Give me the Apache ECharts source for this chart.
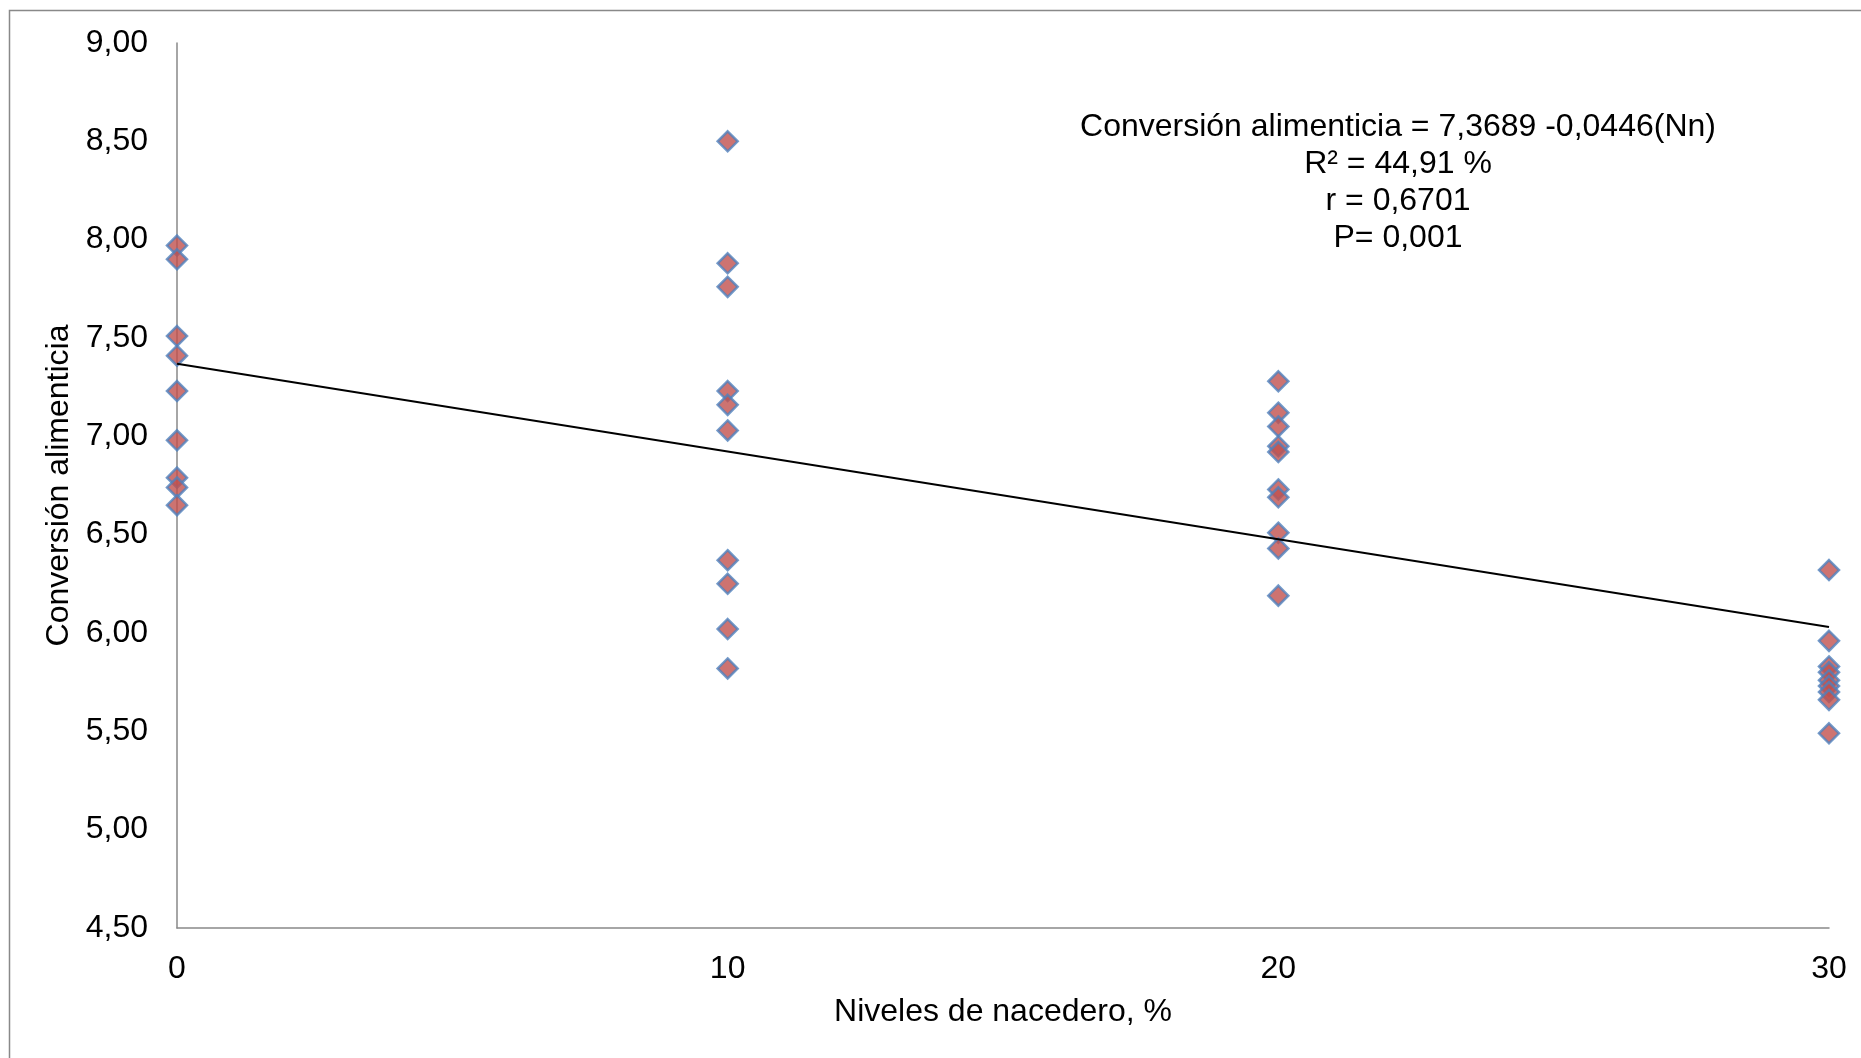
<!DOCTYPE html>
<html>
<head>
<meta charset="utf-8">
<title>Conversión alimenticia vs niveles de nacedero</title>
<script src="https://cdn.jsdelivr.net/npm/echarts@6/dist/echarts.min.js"></script>
<style>
  html, body { margin: 0; padding: 0; background: #ffffff; }
  #chart { width: 1861px; height: 1058px; }
</style>
</head>
<body>
<div id="chart"></div>
<script>
// Niveles de nacedero (%) y conversión alimenticia observada en cada nivel
const niveles = [0, 10, 20, 30];
const conv0  = [7.97, 7.90, 7.51, 7.41, 7.23, 6.98, 6.79, 6.74, 6.65];
const conv10 = [8.50, 7.88, 7.76, 7.23, 7.16, 7.03, 6.37, 6.25, 6.02, 5.82];
const conv20 = [7.28, 7.12, 7.05, 6.95, 6.92, 6.73, 6.69, 6.51, 6.43, 6.19];
const conv30 = [6.32, 5.96, 5.83, 5.80, 5.76, 5.73, 5.70, 5.66, 5.49];

// Recta de regresión: CA = a + b·Nn
const intercepto = 7.3689;
const pendiente = -0.0446;

// Ejes
const yTicks = { min: 4.5, max: 9, interval: 0.5 };
const xTicks = { min: 0, max: 30, interval: 10 };

// Texto de la ecuación
const ecuacion = [
  'Conversión alimenticia = 7,3689 -0,0446(Nn)',
  'R² = 44,91 %',
  'r = 0,6701',
  'P= 0,001'
];

const grupos = [conv0, conv10, conv20, conv30];
const puntos = [];
grupos.forEach((vals, i) => vals.forEach(v => puntos.push([niveles[i], v])));

const recta = [xTicks.min, xTicks.max].map(x => [x, intercepto + pendiente * x]);

const FONT = '"Liberation Sans", Arial, sans-serif';
const FS = 32;

const chart = echarts.init(document.getElementById('chart'), null, { renderer: 'canvas' });

chart.setOption({
  backgroundColor: '#ffffff',
  animation: false,
  textStyle: { fontFamily: FONT },
  grid: {
    left: 177, right: 32, top: 43, bottom: 130,
    containLabel: false
  },
  xAxis: {
    type: 'value',
    min: xTicks.min, max: xTicks.max, interval: xTicks.interval,
    name: 'Niveles de nacedero, %',
    nameLocation: 'middle',
    nameGap: 68,
    nameTextStyle: { fontSize: FS, color: '#000', fontFamily: FONT },
    axisLine: { show: true, onZero: false, lineStyle: { color: '#898989', width: 1.5 } },
    axisTick: { show: false },
    axisLabel: { fontSize: FS, color: '#000', margin: 25, fontFamily: FONT },
    splitLine: { show: false }
  },
  yAxis: {
    type: 'value',
    min: yTicks.min, max: yTicks.max, interval: yTicks.interval,
    name: 'Conversión alimenticia',
    nameLocation: 'middle',
    nameGap: 94,
    nameRotate: 90,
    nameTextStyle: { fontSize: FS, color: '#000', fontFamily: FONT },
    axisLine: { show: true, onZero: false, lineStyle: { color: '#898989', width: 1.5 } },
    axisTick: { show: false },
    axisLabel: {
      fontSize: FS, color: '#000', margin: 29, fontFamily: FONT,
      formatter: v => v.toFixed(2).replace('.', ',')
    },
    splitLine: { show: false }
  },
  series: [
    {
      type: 'scatter',
      data: puntos,
      symbol: 'diamond',
      symbolSize: 20,
      itemStyle: { color: '#C0504D', borderColor: '#4F81BD', borderWidth: 2.5 },
      z: 2
    },
    {
      type: 'line',
      data: recta,
      showSymbol: false,
      symbol: 'none',
      lineStyle: { color: '#000000', width: 2 },
      z: 3
    }
  ],
  graphic: [
    {
      type: 'rect',
      silent: true,
      shape: { x: 9.5, y: 10.5, width: 1900, height: 1100 },
      style: { fill: 'none', stroke: '#898989', lineWidth: 1.5 },
      z: 0
    },
    {
      type: 'text',
      silent: true,
      left: 1398 - 400,
      top: 109,
      style: {
        text: ecuacion.join('\n'),
        x: 400,
        width: 800,
        align: 'center',
        textAlign: 'center',
        fill: '#000',
        font: FS + 'px ' + FONT,
        lineHeight: 37
      },
      z: 5
    }
  ]
});
</script>
</body>
</html>
